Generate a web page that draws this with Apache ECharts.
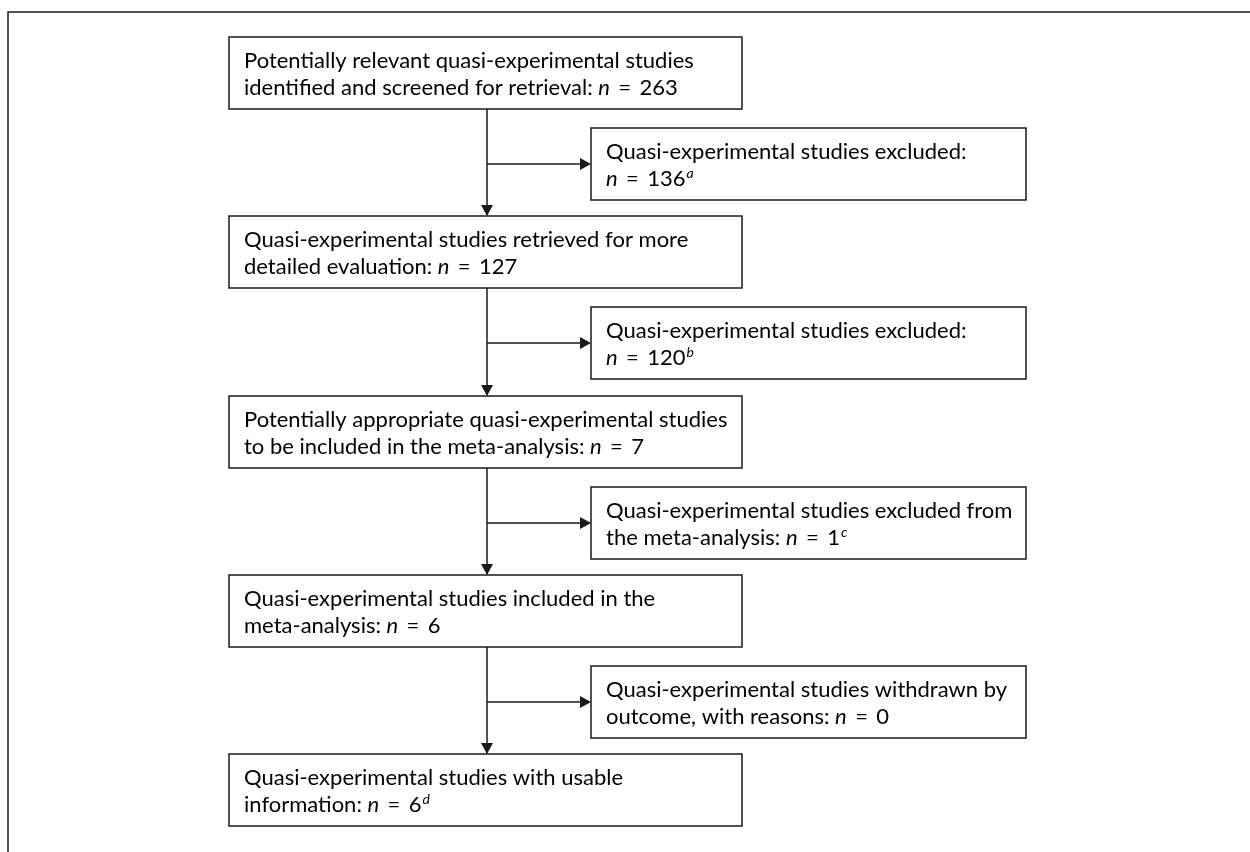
<!DOCTYPE html>
<html>
<head>
<meta charset="utf-8">
<script src="https://cdn.jsdelivr.net/npm/echarts@6/dist/echarts.min.js"></script>
<style>
  html, body { margin: 0; padding: 0; background: #fff; }
  #chart { width: 1250px; height: 852px; }
</style>
</head>
<body>
<div id="chart"></div>
<script>
// main column texts (text before "n =")
let mainTexts = [
  'Potentially relevant quasi-experimental studies\nidentified and screened for retrieval: ',
  'Quasi-experimental studies retrieved for more\ndetailed evaluation: ',
  'Potentially appropriate quasi-experimental studies\nto be included in the meta-analysis: ',
  'Quasi-experimental studies included in the\nmeta-analysis: ',
  'Quasi-experimental studies with usable\ninformation: '
];
let mainCounts = [263, 127, 7, 6, 6];
let mainNotes = ['', '', '', '', 'd'];

// side (excluded) boxes
let sideTexts = [
  'Quasi-experimental studies excluded:\n',
  'Quasi-experimental studies excluded:\n',
  'Quasi-experimental studies excluded from\nthe meta-analysis: ',
  'Quasi-experimental studies withdrawn by\noutcome, with reasons: '
];
let sideCounts = [136, 120, 1, 0];
let sideNotes = ['a', 'b', 'c', ''];

let lineColor = '#1a1a1a';
let fontFamily = 'Lato, "Open Sans", sans-serif';
let mainX = 229, mainW = 513, boxH = 72;
let sideX = 591, sideW = 435;
let firstTop = 37, step = 179.3;
let stemX = 487;

function richText(prefix, count, note) {
  let lines = prefix.split('\n');
  let out = [];
  for (let i = 0; i < lines.length - 1; i++) out.push('{r|' + lines[i] + '}');
  let last = lines[lines.length - 1];
  let tail = (last ? '{r|' + last + '}' : '') + '{i|n}{r|\u2009 = \u2009' + count + '}';
  if (note) tail += '{s|' + note + '}';
  out.push(tail);
  return out.join('\n');
}

let rich = {
  r: { fontSize: 22, fontFamily: fontFamily, color: '#111', lineHeight: 27 },
  i: { fontSize: 22, fontFamily: fontFamily, color: '#111', fontStyle: 'italic', lineHeight: 27 },
  s: { fontSize: 14, fontFamily: fontFamily, color: '#111', fontStyle: 'italic', lineHeight: 27, verticalAlign: 'top', padding: [1, 0, 0, 1] }
};

function box(x, y, w, h, txt) {
  return [{
    type: 'rect',
    shape: { x: x, y: y, width: w, height: h },
    style: { fill: '#fff', stroke: lineColor, lineWidth: 1.5 }
  }, {
    type: 'text',
    x: x + 15,
    y: y + h / 2 + 1,
    style: { text: txt, rich: rich, verticalAlign: 'middle', align: 'left' }
  }];
}

function arrowHead(x, y, dir) { // tip at (x, y)
  let pts = dir === 'down'
    ? [[x - 6, y - 11], [x + 6, y - 11], [x, y]]
    : [[x - 11, y - 6], [x - 11, y + 6], [x, y]];
  return { type: 'polygon', shape: { points: pts }, style: { fill: lineColor } };
}

let elements = [];
// outer frame (cropped on the right and bottom)
elements.push({
  type: 'rect',
  shape: { x: 8, y: 12, width: 1260, height: 900 },
  style: { fill: 'none', stroke: lineColor, lineWidth: 1.5 }
});

for (let k = 0; k < mainTexts.length; k++) {
  let top = Math.round(firstTop + k * step);
  elements = elements.concat(box(mainX, top, mainW, boxH, richText(mainTexts[k], mainCounts[k], mainNotes[k])));
  if (k < sideTexts.length) {
    let nextTop = Math.round(firstTop + (k + 1) * step);
    let sTop = top + boxH + 19;
    let midY = sTop + boxH / 2;
    elements.push({
      type: 'line',
      shape: { x1: stemX, y1: top + boxH, x2: stemX, y2: nextTop - 1 },
      style: { stroke: lineColor, lineWidth: 1.5 }
    });
    elements.push(arrowHead(stemX, nextTop, 'down'));
    elements.push({
      type: 'line',
      shape: { x1: stemX, y1: midY, x2: sideX - 2, y2: midY },
      style: { stroke: lineColor, lineWidth: 1.5 }
    });
    elements.push(arrowHead(sideX, midY, 'right'));
    elements = elements.concat(box(sideX, sTop, sideW, boxH, richText(sideTexts[k], sideCounts[k], sideNotes[k])));
  }
}

let chart = echarts.init(document.getElementById('chart'));
chart.setOption({
  backgroundColor: '#fff',
  animation: false,
  graphic: { elements: elements }
});
</script>
</body>
</html>
